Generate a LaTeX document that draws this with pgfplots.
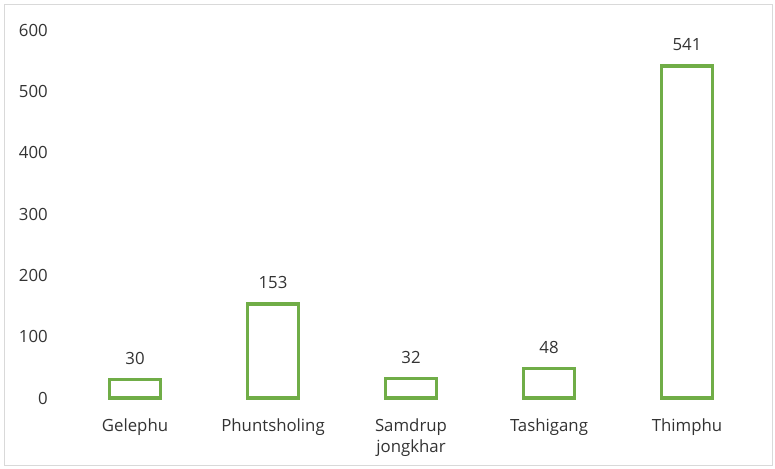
\documentclass[border=0pt]{standalone}
\usepackage{pgfplots}
\pgfplotsset{compat=1.18}
\usepackage{fontspec}
\setmainfont{Open Sans}
\definecolor{bargreen}{HTML}{70AD47}
\definecolor{txt}{HTML}{333333}
\definecolor{frame}{HTML}{D9D9D9}
\begin{document}
\begin{tikzpicture}
\useasboundingbox (-49.5pt,-52.5pt) rectangle (531.75pt,298.5pt);
\draw[frame, line width=0.75pt] (-45.75pt,-50.25pt) rectangle (529.5pt,294.75pt);
\begin{axis}[
  at={(0pt,0pt)}, anchor=south west,
  scale only axis,
  width=517.5pt, height=276pt,
  ybar, bar width=38pt,
  xmin=-0.5, xmax=4.5,
  ymin=0, ymax=600,
  ytick={0,100,...,600},
  xtick=data,
  xticklabels={Gelephu,Phuntsholing,{Samdrup\\jongkhar},Tashigang,Thimphu},
  axis line style={draw=none},
  tick style={draw=none},
  font=\fontsize{12.6pt}{15.8pt}\selectfont,
  every tick label/.append style={font=\fontsize{12.6pt}{15.8pt}\selectfont, text=txt},
  /pgf/number format/assume math mode=true,
  yticklabel style={inner sep=0pt, anchor=east, xshift=-13.5pt},
  xticklabel style={inner sep=0pt, anchor=north, yshift=-11pt, align=center},
  nodes near coords,
  nodes near coords style={inner sep=0pt, anchor=south, yshift=10pt, text=txt, font=\fontsize{12.6pt}{15.8pt}\selectfont},
  clip=false,
]
\addplot[draw=bargreen, fill=white, line width=2.6pt] coordinates {(0,30) (1,153) (2,32) (3,48) (4,541)};
\end{axis}
\end{tikzpicture}
\end{document}
